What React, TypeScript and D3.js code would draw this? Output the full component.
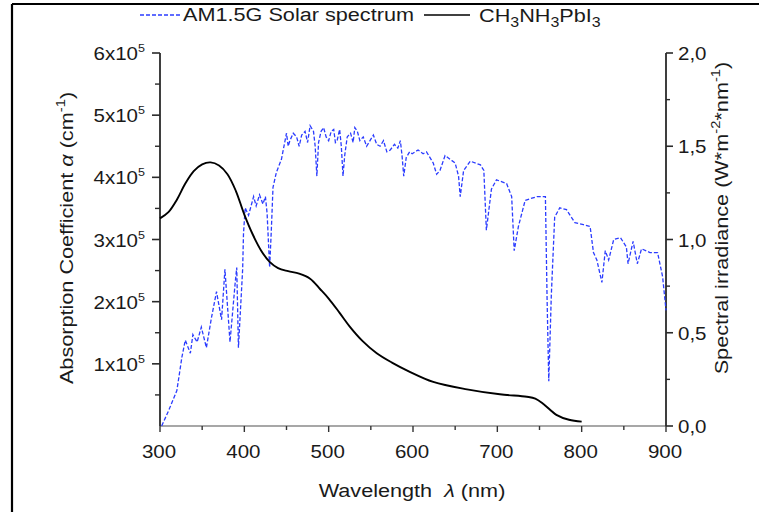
import React from 'react';
import * as d3 from 'd3';

// Absorption coefficient of CH3NH3PbI3 (x10^5 cm^-1)
const absWavelength = [300, 310, 320, 330, 340, 350, 360, 370, 380, 390, 400, 410, 420, 430, 440, 452, 465, 478, 490, 500, 513, 525, 540, 557, 575, 595, 624, 664, 703, 735, 745, 755, 770, 785, 800];
const absCoeff = [3.34, 3.44, 3.64, 3.90, 4.10, 4.21, 4.24, 4.19, 4.05, 3.78, 3.40, 3.08, 2.82, 2.64, 2.54, 2.49, 2.45, 2.37, 2.20, 2.05, 1.82, 1.60, 1.37, 1.17, 1.02, 0.88, 0.71, 0.59, 0.51, 0.47, 0.44, 0.35, 0.18, 0.10, 0.07];

// AM1.5G solar spectrum (W m^-2 nm^-1)
const specWavelength = [302, 310, 320, 326, 330, 336, 339, 344, 349, 355, 361, 367, 373, 377, 383, 389, 391, 393, 398, 399, 401, 405, 411, 414, 418, 422, 425, 427, 430, 432, 434, 438, 444, 450, 452, 454, 458, 462, 465, 468, 472, 475, 478, 482, 484, 486, 488, 491, 494, 497, 500, 503, 506, 508, 510, 513, 515, 517, 519, 522, 526, 529, 531, 534, 537, 541, 545, 549, 553, 557, 561, 565, 569, 573, 578, 582, 585, 587, 589, 592, 596, 599, 606, 612, 616, 624, 628, 632, 638, 644, 650, 654, 656, 660, 668, 680, 684, 687, 693, 699, 711, 717, 720, 725, 733, 747, 757, 759, 761, 764, 768, 774, 782, 792, 802, 810, 814, 818, 824, 828, 832, 838, 846, 853, 855, 861, 866, 871, 881, 890, 896, 900];
const specIrradiance = [0, 0.08, 0.19, 0.37, 0.46, 0.39, 0.49, 0.45, 0.53, 0.42, 0.58, 0.72, 0.57, 0.84, 0.45, 0.76, 0.85, 0.42, 0.84, 1.03, 1.17, 1.13, 1.23, 1.18, 1.24, 1.19, 1.23, 1.14, 0.85, 1.05, 1.28, 1.36, 1.43, 1.57, 1.50, 1.53, 1.57, 1.55, 1.50, 1.56, 1.58, 1.52, 1.61, 1.58, 1.50, 1.34, 1.52, 1.58, 1.60, 1.55, 1.53, 1.58, 1.59, 1.52, 1.53, 1.59, 1.50, 1.34, 1.45, 1.55, 1.57, 1.52, 1.60, 1.58, 1.53, 1.55, 1.50, 1.53, 1.56, 1.51, 1.50, 1.53, 1.47, 1.48, 1.51, 1.49, 1.53, 1.45, 1.34, 1.44, 1.47, 1.46, 1.48, 1.46, 1.47, 1.41, 1.35, 1.37, 1.45, 1.43, 1.41, 1.34, 1.23, 1.37, 1.42, 1.40, 1.37, 1.05, 1.27, 1.32, 1.30, 1.23, 0.94, 1.07, 1.21, 1.23, 1.23, 0.68, 0.24, 0.70, 1.12, 1.17, 1.16, 1.09, 1.08, 1.07, 0.93, 0.89, 0.77, 0.94, 0.89, 1.00, 1.01, 0.96, 0.87, 0.99, 0.87, 0.95, 0.93, 0.93, 0.80, 0.62];

const xMajorTicks = [300, 400, 500, 600, 700, 800, 900];
const xMinorTicks = [350, 450, 550, 650, 750, 850];
const leftMajorTicks = [1, 2, 3, 4, 5, 6];
const leftMinorTicks = [0.5, 1.5, 2.5, 3.5, 4.5, 5.5];
const rightMajorTicks = [0, 0.5, 1, 1.5, 2];
const rightTickLabels = ['0,0', '0,5', '1,0', '1,5', '2,0'];
const rightMinorTicks = [0.25, 0.75, 1.25, 1.75];

const FONT = '"Liberation Sans", Arial, Helvetica, sans-serif';
const SX = 1.14;
const BLUE = '#2b3cff';
const INK = '#1a1a1a';

function T({ x, y, rotate = 0, anchor = 'start', fs = 18, children, baseline }: any) {
  return (
    <g transform={`translate(${x},${y}) rotate(${rotate}) scale(${SX},1)`}>
      <text textAnchor={anchor} fontSize={fs} fontFamily={FONT} fill={INK} dominantBaseline={baseline}>
        {children}
      </text>
    </g>
  );
}

export default function App() {
  const x = d3.scaleLinear().domain([300, 900]).range([160, 666]);
  const yL = d3.scaleLinear().domain([0, 6]).range([426, 53]);
  const yR = d3.scaleLinear().domain([0, 2]).range([426, 53]);

  const absData = absWavelength.map((w, i) => [w, absCoeff[i]] as [number, number]);
  const specData = specWavelength.map((w, i) => [w, specIrradiance[i]] as [number, number]);

  const absLine = d3.line<[number, number]>().x(d => x(d[0])).y(d => yL(d[1])).curve(d3.curveCatmullRom.alpha(0.5));
  const specLine = d3.line<[number, number]>().x(d => x(d[0])).y(d => yR(d[1]));

  const [x0, x1] = x.range();
  const [yBottom, yTop] = yL.range();

  return (
    <svg width={759} height={512} style={{ position: 'absolute', left: 0, top: 0, background: '#fff' }}>
      {/* frame */}
      <line x1={12} y1={4} x2={759} y2={4} stroke="#000" strokeWidth={2.2} />
      <line x1={12} y1={4} x2={12} y2={512} stroke="#000" strokeWidth={2.2} />

      {/* legend */}
      <line x1={140} y1={15} x2={180} y2={15} stroke={BLUE} strokeWidth={1.3} strokeDasharray="4,2" />
      <T x={183} y={21} fs={19}>AM1.5G Solar spectrum</T>
      <line x1={424} y1={15} x2={470} y2={15} stroke="#000" strokeWidth={1.6} />
      <T x={479} y={22} fs={19}>
        CH<tspan fontSize={14} dy={5}>3</tspan>
        <tspan dy={-5}>NH</tspan>
        <tspan fontSize={14} dy={5}>3</tspan>
        <tspan dy={-5}>PbI</tspan>
        <tspan fontSize={14} dy={5}>3</tspan>
      </T>

      {/* x axis */}
      <line x1={x0} y1={yBottom} x2={x1} y2={yBottom} stroke="#8a8a8a" strokeWidth={1.5} />
      {xMajorTicks.map(t => (
        <line key={'xm' + t} x1={x(t)} y1={yBottom} x2={x(t)} y2={yBottom + 6} stroke="#333" strokeWidth={1.4} />
      ))}
      {xMinorTicks.map(t => (
        <line key={'xn' + t} x1={x(t)} y1={yBottom} x2={x(t)} y2={yBottom + 4} stroke="#333" strokeWidth={1.4} />
      ))}
      {xMajorTicks.map(t => (
        <T key={'xl' + t} x={x(t) - 1} y={458} anchor="middle" fs={18}>{String(t)}</T>
      ))}
      <T x={412} y={497} anchor="middle" fs={19}>
        Wavelength{'\u00a0\u00a0'}<tspan fontStyle="italic">λ</tspan> (nm)
      </T>

      {/* left axis */}
      <line x1={x0} y1={yBottom} x2={x0} y2={yTop} stroke="#2a2a2a" strokeWidth={1.8} />
      {leftMajorTicks.map(t => (
        <line key={'lm' + t} x1={x0 - 8} y1={yL(t)} x2={x0} y2={yL(t)} stroke="#2a2a2a" strokeWidth={1.6} />
      ))}
      {leftMinorTicks.map(t => (
        <line key={'ln' + t} x1={x0 - 5} y1={yL(t)} x2={x0} y2={yL(t)} stroke="#2a2a2a" strokeWidth={1.4} />
      ))}
      {leftMajorTicks.map(t => (
        <T key={'ll' + t} x={145} y={yL(t) + 7} anchor="end" fs={18}>
          {t}x10<tspan fontSize={11} dy={-8}>5</tspan>
        </T>
      ))}
      <T x={68} y={238} rotate={-90} anchor="middle" fs={19} baseline="middle">
        Absorption Coefficient <tspan fontStyle="italic">α</tspan> (cm<tspan fontSize={13} dy={-7}>-1</tspan><tspan dy={7}>)</tspan>
      </T>

      {/* right axis */}
      <line x1={x1} y1={yBottom} x2={x1} y2={yTop} stroke="#2a2a2a" strokeWidth={1.8} />
      {rightMajorTicks.map(t => (
        <line key={'rm' + t} x1={x1} y1={yR(t)} x2={x1 + 7} y2={yR(t)} stroke="#2a2a2a" strokeWidth={1.6} />
      ))}
      {rightMinorTicks.map(t => (
        <line key={'rn' + t} x1={x1} y1={yR(t)} x2={x1 + 4} y2={yR(t)} stroke="#2a2a2a" strokeWidth={1.4} />
      ))}
      {rightMajorTicks.map((t, i) => (
        <T key={'rl' + t} x={678} y={yR(t) + 7} fs={18}>{rightTickLabels[i]}</T>
      ))}
      <T x={723} y={218} rotate={-90} anchor="middle" fs={19} baseline="middle">
        Spectral irradiance (W*m<tspan fontSize={13} dy={-7}>-2</tspan><tspan dy={7}>*nm</tspan><tspan fontSize={13} dy={-7}>-1</tspan><tspan dy={7}>)</tspan>
      </T>

      {/* data */}
      <path d={specLine(specData) || ''} fill="none" stroke={BLUE} strokeWidth={1.3} strokeDasharray="4,2" />
      <path d={absLine(absData) || ''} fill="none" stroke="#000" strokeWidth={1.9} />
    </svg>
  );
}
